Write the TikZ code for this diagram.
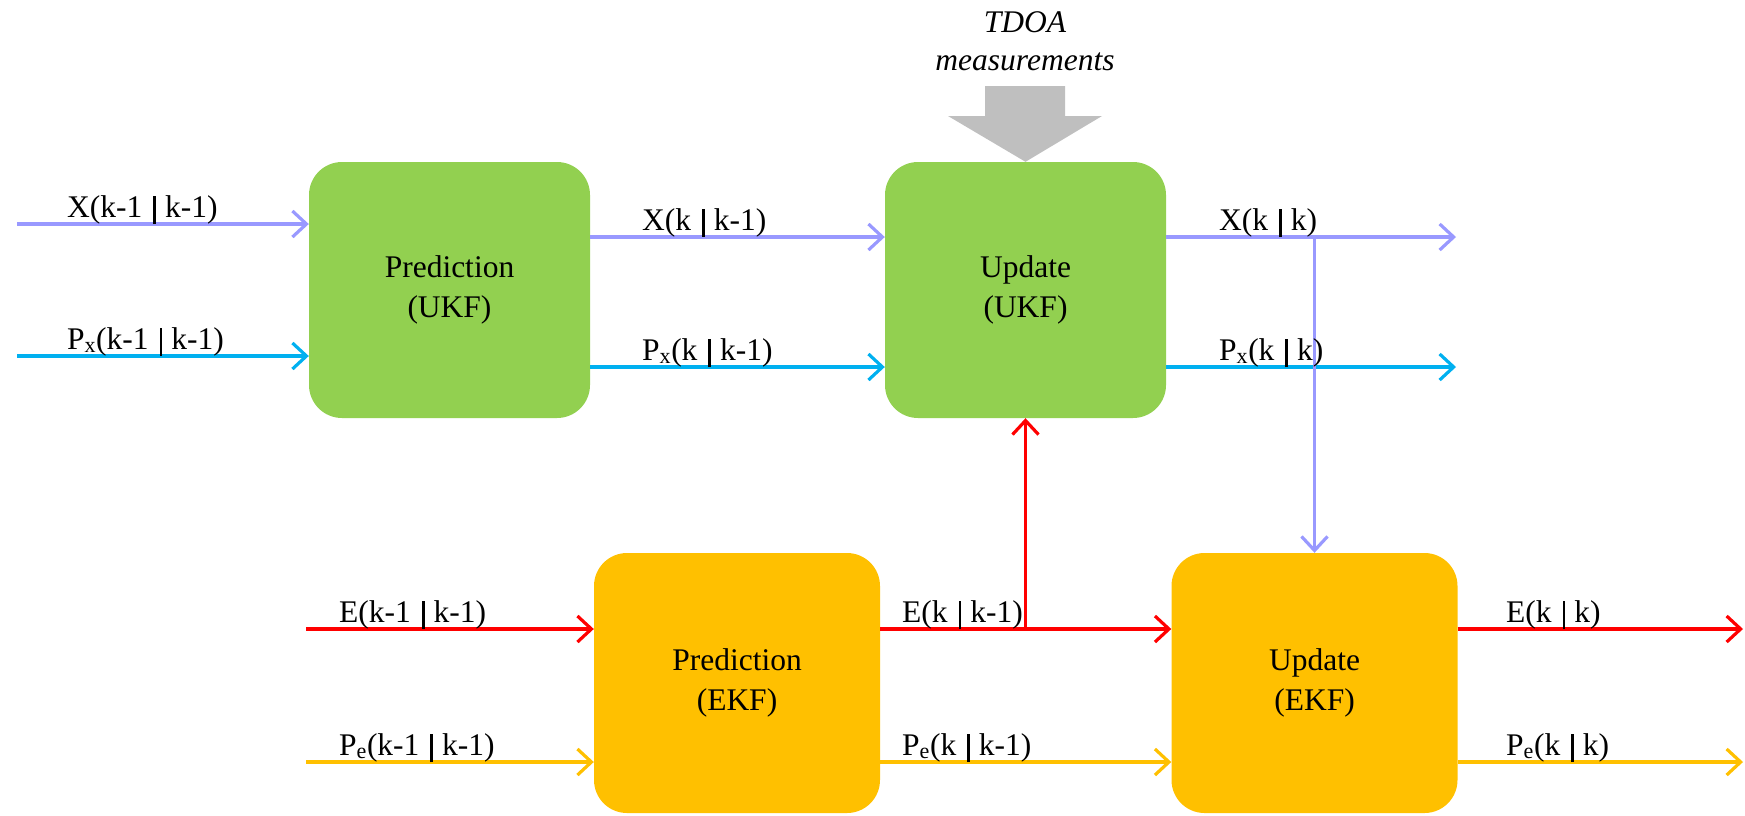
\documentclass[tikz,border=0pt]{standalone}
\usepackage{fontspec}
\setmainfont{Liberation Serif}
\usepackage{tikz}
\usetikzlibrary{arrows.meta, calc}

\definecolor{ukfgreen}{RGB}{146,208,80}
\definecolor{ekforange}{RGB}{255,192,0}
\definecolor{xcol}{RGB}{153,153,255}
\definecolor{pxcol}{RGB}{0,176,240}
\definecolor{ecol}{RGB}{255,0,0}
\definecolor{pecol}{RGB}{255,192,0}
\definecolor{tdoagray}{RGB}{191,191,191}

\newcommand{\given}{\hspace{11pt}\rule[-7pt]{2.6pt}{28pt}\hspace{9pt}}

\begin{document}
\begin{tikzpicture}[x=1pt, y=-1pt,
        every node/.style={font=\fontsize{31.5}{40}\selectfont},
        ukfbox/.style={fill=ukfgreen, rounded corners=33pt, minimum width=281pt, minimum height=256pt, align=center, inner sep=0pt},
        ekfbox/.style={fill=ekforange, rounded corners=33pt, minimum width=286pt, minimum height=260pt, align=center, inner sep=0pt},
        sig/.style={line width=3.2pt, -{Straight Barb[length=14pt, width=26pt]}},
        lbl/.style={anchor=base west, inner sep=0pt}]
        \useasboundingbox (0,0) rectangle (1745,815);

        \node[ukfbox] (pukf) at (449.5,290) {Prediction\\(UKF)};
        \node[ukfbox] (uukf) at (1025.5,290) {Update\\(UKF)};
        \node[ekfbox] (pekf) at (737,683) {Prediction\\(EKF)};
        \node[ekfbox] (uekf) at (1314.5,683) {Update\\(EKF)};

        \node[font=\fontsize{31.5}{38}\selectfont\itshape, align=center] (tdoa) at (1025,41) {TDOA\\measurements};
        \fill[tdoagray] (985,86) -- (1065,86) -- (1065,116) -- (1102,116) -- (uukf.north) -- (948,116) -- (985,116) -- cycle;

        \coordinate (xin) at (17,224);
        \coordinate (pxin) at (17,356);
        \coordinate (xout) at (1456,237);
        \coordinate (pxout) at (1456,367);
        \coordinate (ein) at (306,629);
        \coordinate (pein) at (306,762);
        \coordinate (eout) at (1743,629);
        \coordinate (peout) at (1743,762);

        \draw[sig, xcol] (xin) -- (xin -| pukf.west);
        \draw[sig, pxcol] (pxin) -- (pxin -| pukf.west);
        \draw[sig, xcol] (pukf.east |- xout) -- (uukf.west |- xout);
        \draw[sig, pxcol] (pukf.east |- pxout) -- (uukf.west |- pxout);
        \draw[sig, xcol] (uukf.east |- xout) -- (xout);
        \draw[sig, pxcol] (uukf.east |- pxout) -- (pxout);
        \draw[sig, xcol] (uekf.north |- xout) -- (uekf.north);

        \draw[sig, ecol] (ein) -- (ein -| pekf.west);
        \draw[sig, pecol] (pein) -- (pein -| pekf.west);
        \draw[sig, ecol] (pekf.east |- eout) -- (uekf.west |- eout);
        \draw[sig, pecol] (pekf.east |- peout) -- (uekf.west |- peout);
        \draw[sig, ecol] (uukf.south |- eout) -- (uukf.south);
        \draw[sig, ecol] (uekf.east |- eout) -- (eout);
        \draw[sig, pecol] (uekf.east |- peout) -- (peout);

        \node[lbl] (lxin) at (67,217) {X(k-1\given k-1)};
        \node[lbl] (lpxin) at (67,349) {P\textsubscript{x}(k-1\given k-1)};
        \node[lbl] (lxp) at (642,230) {X(k\given k-1)};
        \node[lbl] (lpxp) at (642,360) {P\textsubscript{x}(k\given k-1)};
        \node[lbl] (lxu) at (1219,230) {X(k\given k)};
        \node[lbl] (lpxu) at (1219,360) {P\textsubscript{x}(k\given k)};
        \node[lbl] (lein) at (339,622) {E(k-1\given k-1)};
        \node[lbl] (lpein) at (339,755) {P\textsubscript{e}(k-1\given k-1)};
        \node[lbl] (lep) at (902,622) {E(k\given k-1)};
        \node[lbl] (lpep) at (902,755) {P\textsubscript{e}(k\given k-1)};
        \node[lbl] (leu) at (1506,622) {E(k\given k)};
        \node[lbl] (lpeu) at (1506,755) {P\textsubscript{e}(k\given k)};

\end{tikzpicture}
\end{document}
